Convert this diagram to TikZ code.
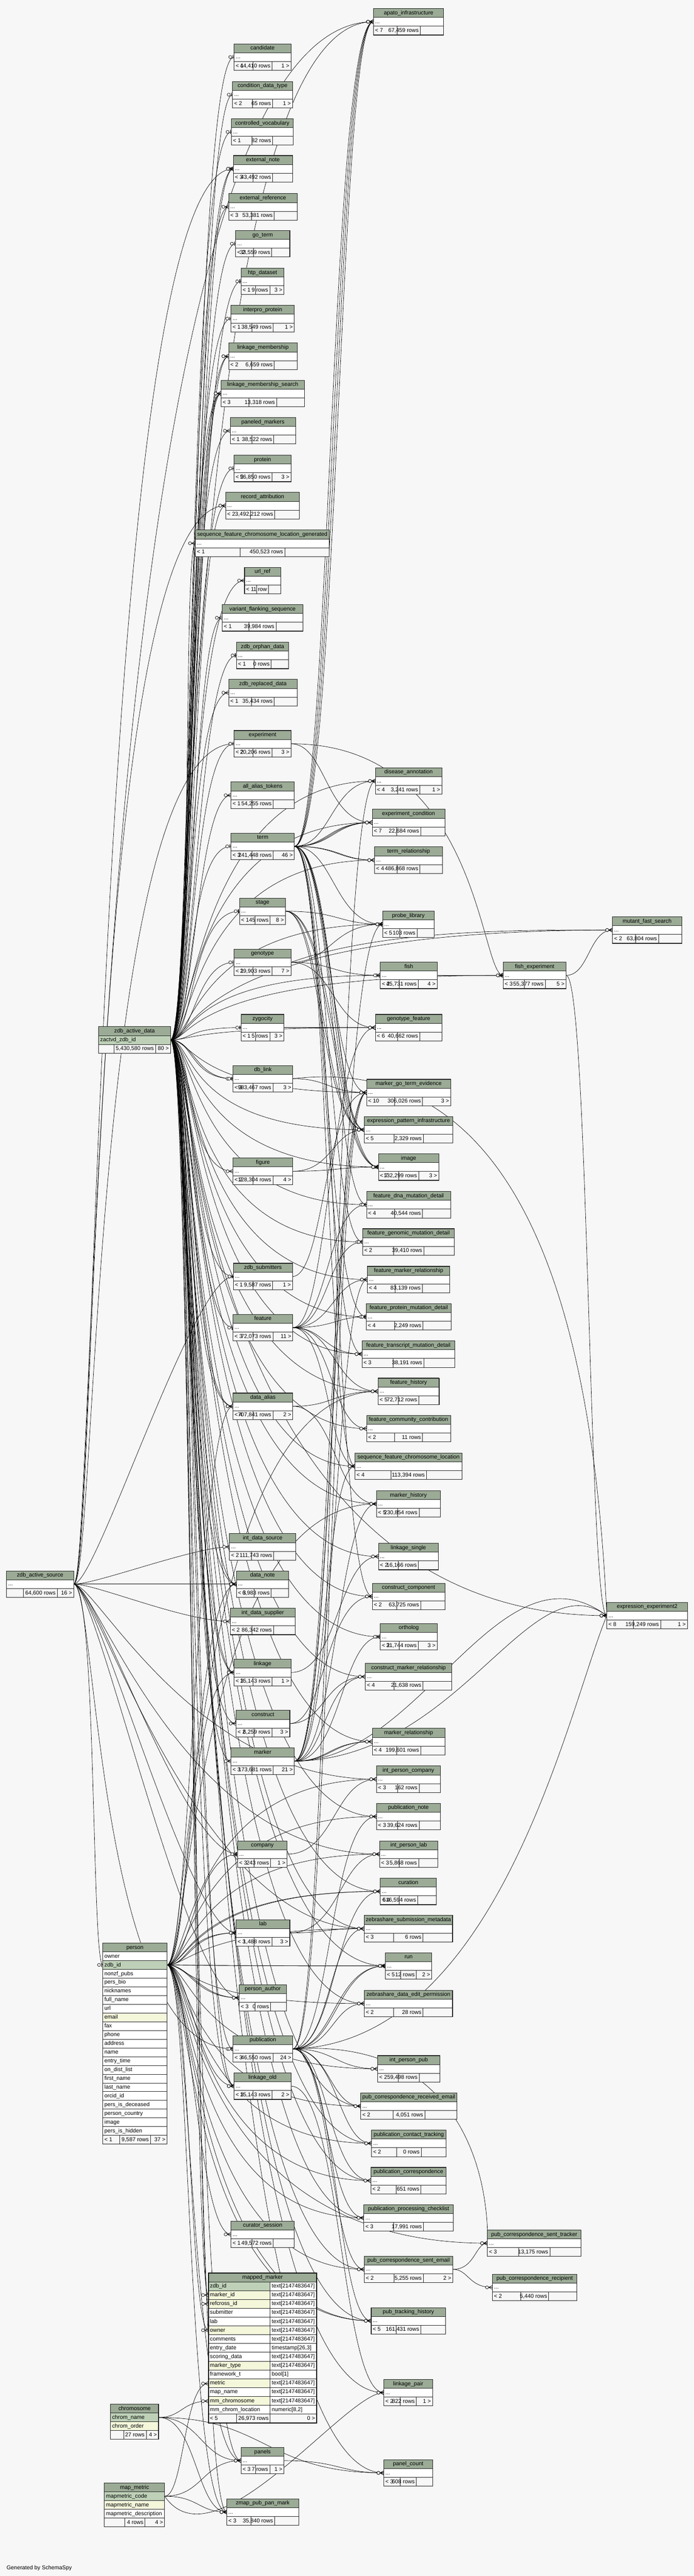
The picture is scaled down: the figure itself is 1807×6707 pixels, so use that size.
\documentclass[tikz,border=0pt]{standalone}
\usepackage{fontspec}
\setmainfont{Liberation Sans}
\usetikzlibrary{calc}
\definecolor{bgc}{HTML}{F7F7F7}
\definecolor{hdr}{HTML}{9BAB96}
\definecolor{pkc}{HTML}{BED1B8}
\definecolor{idx}{HTML}{F4F7DA}
\pgfdeclarelayer{bg}\pgfdeclarelayer{mk}\pgfsetlayers{bg,mk,main}
\newdimen\tw
\newcount\ec
\newcommand\tf{\fontsize{14.5}{17}\selectfont}
\tikzset{edge/.style={line width=0.9pt,black},
 cellb/.style={line width=0.9pt,black!85},
 txt/.style={inner sep=0pt,font=\tf,text height=10.5pt,text depth=3pt}}
\newcommand\hcell[6]{\path[fill=hdr] (#2,#4) rectangle (#3,#4+#5); \draw[cellb] (#2,#4) rectangle (#3,#4+#5); \node[txt] (#1) at ({(#2+#3)/2},#4+#5/2+0.5) {#6};}
\newcommand\crow[7]{\path[fill=#6] (#2,#4) rectangle (#3,#4+#5); \draw[cellb] (#2,#4) rectangle (#3,#4+#5); \node[txt,anchor=west] (#1) at (#2+4,#4+#5/2+0.5) {#7};}
\newcommand\fcell[7]{\path[fill=bgc] (#2,#4) rectangle (#3,#4+#5); \draw[cellb] (#2,#4) rectangle (#3,#4+#5); \if#7w\node[txt,anchor=west] (#1) at (#2+4,#4+#5/2+0.5) {#6};\else\node[txt,anchor=east] (#1) at (#3-4,#4+#5/2+0.5) {#6};\fi}
\newcommand\stbl[8]{%
\pgfmathsetmacro\tXa{#2}\pgfmathsetmacro\tXb{#3}\pgfmathsetmacro\tYa{#4}%
\settowidth{\tw}{\tf #7}%
\pgfmathsetmacro\tMw{max(\tw+12,(\tXb-\tXa)/3)}%
\pgfmathsetmacro\tSa{\tXa+(\tXb-\tXa-\tMw)/2}%
\pgfmathsetmacro\tSb{\tXb-(\tXb-\tXa-\tMw)/2}%
\node[inner sep=0pt,minimum width={\tXb-\tXa},minimum height=69,anchor=north west] (#1) at (\tXa,\tYa) {};
\hcell{#1-h}{\tXa}{\tXb}{\tYa}{23}{#5}
\crow{#1-d}{\tXa}{\tXb}{\tYa+23}{23}{white}{...}
\fcell{#1-a}{\tXa}{\tSa}{\tYa+46}{23}{#6}{w}
\fcell{#1-b}{\tSa}{\tSb}{\tYa+46}{23}{#7}{e}
\fcell{#1-c}{\tSb}{\tXb}{\tYa+46}{23}{#8}{e}
\draw[line width=1.2pt,black!85] (\tXa,\tYa) rectangle (\tXb,\tYa+69);
\coordinate (#1-l) at (\tXa,\tYa+34.5);
\coordinate (#1-r) at (\tXb,\tYa+34.5);}
\newcommand\mkm[1]{\draw[edge] ([xshift=-10pt]#1) -- ([yshift=5pt]#1) ([xshift=-10pt]#1) -- ([yshift=-5pt]#1) ([xshift=-10pt]#1) -- (#1); \draw[edge,fill=bgc] ([xshift=-14pt]#1) circle[radius=4pt];}
\newcommand\mko[1]{\draw[line width=2pt] ([shift={(-3pt,5pt)}]#1) -- ([shift={(-3pt,-5pt)}]#1); \draw[edge,fill=bgc] ([xshift=-10pt]#1) circle[radius=4pt];}
\newcommand\HE[4]{\global\advance\ec by 1
\pgfmathsetmacro\off{mod(\the\ec*13,41)-20}%
\begin{pgfonlayer}{bg}\draw[edge] (#1-r) .. controls ($(#1-r)+(60,0)$) and ($(#3 |- #2-l)+(\off,0)$) .. (#2-l);\end{pgfonlayer}
\begin{pgfonlayer}{mk}#4{#2-l}\end{pgfonlayer}}
\newcommand\ME[3]{\global\advance\ec by 1
\pgfmathsetmacro\off{mod(\the\ec*7,31)-15}%
\begin{pgfonlayer}{bg}\draw[edge] let \p1=(#1-r), \p2=(#2-l) in (\p1) .. controls ({(\x1+\x2)/2+\off*1pt},\y1) and ({(\x1+\x2)/2+\off*1pt},\y2) .. (\p2);\end{pgfonlayer}
\begin{pgfonlayer}{mk}#3{#2-l}\end{pgfonlayer}}
\newcommand\SE[5]{\begin{pgfonlayer}{bg}\draw[edge] (#1-r) .. controls #3 and #4 .. (#2-l);\end{pgfonlayer}
\begin{pgfonlayer}{mk}#5{#2-l}\end{pgfonlayer}}
\begin{document}
\begin{tikzpicture}[x=1pt,y=-1pt]
\useasboundingbox (0,0) rectangle (1807,6707);
\begin{pgfonlayer}{bg}\fill[bgc] (0,0) rectangle (1807,6707);\end{pgfonlayer}
\coordinate (bxZ) at (495,0);
\coordinate (bxS) at (238,0);
\coordinate (bxP) at (502,0);
% ---------- middle column
\stbl{cand}{610}{758}{114}{candidate}{< 1}{44,410 rows}{1 >}
\stbl{cdt}{606}{762}{212}{condition\_data\_type}{< 2}{65 rows}{1 >}
\stbl{cv}{603}{764}{309}{controlled\_vocabulary}{< 1}{82 rows}{}
\stbl{extnote}{608}{762}{405}{external\_note}{< 3}{43,492 rows}{}
\stbl{extref}{596}{774}{504}{external\_reference}{< 3}{53,381 rows}{}
\stbl{goterm}{614}{755}{600}{go\_term}{< 2}{33,559 rows}{}
\stbl{htp}{628}{740}{698}{htp\_dataset}{< 1}{9 rows}{3 >}
\stbl{interpro}{602}{767}{795}{interpro\_protein}{< 1}{38,549 rows}{1 >}
\stbl{lms}{596}{774}{893}{linkage\_membership}{< 2}{6,659 rows}{}
\stbl{lmss}{576}{793}{990}{linkage\_membership\_search}{< 3}{13,318 rows}{}
\stbl{panmk}{600}{770}{1087}{paneled\_markers}{< 1}{38,522 rows}{}
\stbl{protein}{610}{758}{1185}{protein}{< 2}{56,850 rows}{3 >}
\stbl{recatt}{588}{780}{1282}{record\_attribution}{< 2}{3,492,212 rows}{}
\stbl{sfclg}{509}{858}{1380}{sequence\_feature\_chromosome\_location\_generated}{< 1}{450,523 rows}{}
\stbl{urlref}{637}{731}{1477}{url\_ref}{< 1}{1 row}{}
\stbl{vfs}{579}{789}{1574}{variant\_flanking\_sequence}{< 1}{39,984 rows}{}
\stbl{orphan}{616}{752}{1672}{zdb\_orphan\_data}{< 1}{0 rows}{}
\stbl{replaced}{596}{774}{1769}{zdb\_replaced\_data}{< 1}{35,434 rows}{}
\stbl{exp}{610}{758}{1902}{experiment}{< 2}{20,206 rows}{3 >}
\stbl{aat}{602}{767}{2036}{all\_alias\_tokens}{< 1}{54,255 rows}{}
\stbl{term}{602}{767}{2169}{term}{< 3}{241,448 rows}{46 >}
\stbl{stage}{624}{744}{2338}{stage}{< 1}{45 rows}{8 >}
\stbl{geno}{610}{758}{2471}{genotype}{< 1}{29,903 rows}{7 >}
\stbl{zyg}{628}{740}{2641}{zygocity}{< 1}{5 rows}{3 >}
\stbl{dblink}{607}{763}{2774}{db\_link}{< 3}{983,467 rows}{3 >}
\stbl{figure}{607}{763}{3015}{figure}{< 2}{128,304 rows}{4 >}
\stbl{subm}{608}{762}{3289}{zdb\_submitters}{< 1}{9,587 rows}{1 >}
\stbl{feature}{607}{763}{3422}{feature}{< 3}{72,073 rows}{11 >}
\stbl{dalias}{607}{763}{3627}{data\_alias}{< 4}{707,841 rows}{2 >}
\stbl{ids}{598}{771}{3993}{int\_data\_source}{< 2}{111,743 rows}{}
\stbl{dnote}{616}{752}{4090}{data\_note}{< 3}{6,983 rows}{}
\stbl{idsup}{600}{769}{4187}{int\_data\_supplier}{< 2}{86,342 rows}{}
\stbl{linkage}{610}{758}{4320}{linkage}{< 3}{15,143 rows}{1 >}
\stbl{construct}{615}{755}{4453}{construct}{< 2}{6,259 rows}{3 >}
\stbl{marker}{602}{767}{4551}{marker}{< 3}{173,681 rows}{21 >}
\stbl{company}{619}{748}{4793}{company}{< 3}{243 rows}{1 >}
\stbl{lab}{615}{755}{4998}{lab}{< 3}{1,488 rows}{3 >}
\stbl{pauth}{623}{746}{5167}{person\_author}{< 3}{0 rows}{}
\stbl{pub}{607}{763}{5300}{publication}{< 3}{46,550 rows}{24 >}
\stbl{lold}{610}{758}{5397}{linkage\_old}{< 3}{15,143 rows}{2 >}
\stbl{cursess}{602}{767}{5783}{curator\_session}{< 1}{49,572 rows}{}
\stbl{panels}{628}{740}{6372}{panels}{< 3}{7 rows}{1 >}
\stbl{zppm}{591}{778}{6506}{zmap\_pub\_pan\_mark}{< 3}{35,840 rows}{}
% ---------- right column
\stbl{apato}{973}{1156}{22}{apato\_infrastructure}{< 7}{67,459 rows}{}
\stbl{disann}{978}{1151}{1999}{disease\_annotation}{< 4}{3,241 rows}{1 >}
\stbl{expcond}{970}{1159}{2107}{experiment\_condition}{< 7}{22,684 rows}{}
\stbl{termrel}{976}{1153}{2205}{term\_relationship}{< 4}{486,868 rows}{}
\stbl{probelib}{997}{1131}{2372}{probe\_library}{< 5}{103 rows}{}
\stbl{fish}{991}{1139}{2505}{fish}{< 2}{45,731 rows}{4 >}
\stbl{genofeat}{978}{1151}{2641}{genotype\_feature}{< 6}{40,662 rows}{}
\stbl{mgte}{955}{1174}{2810}{marker\_go\_term\_evidence}{< 10}{306,026 rows}{3 >}
\stbl{epi}{949}{1180}{2907}{expression\_pattern\_infrastructure}{< 5}{2,329 rows}{}
\stbl{image}{986}{1143}{3004}{image}{< 7}{132,299 rows}{3 >}
\stbl{fdna}{955}{1174}{3102}{feature\_dna\_mutation\_detail}{< 4}{40,544 rows}{}
\stbl{fgen}{945}{1184}{3199}{feature\_genomic\_mutation\_detail}{< 2}{39,410 rows}{}
\stbl{fmr}{957}{1172}{3297}{feature\_marker\_relationship}{< 4}{83,139 rows}{}
\stbl{fprot}{954}{1176}{3394}{feature\_protein\_mutation\_detail}{< 4}{2,249 rows}{}
\stbl{ftrans}{943}{1185}{3491}{feature\_transcript\_mutation\_detail}{< 3}{38,191 rows}{}
\stbl{fhist}{985}{1144}{3588}{feature\_history}{< 5}{72,712 rows}{}
\stbl{fcc}{955}{1174}{3685}{feature\_community\_contribution}{< 2}{11 rows}{}
\stbl{sfcl}{925}{1204}{3783}{sequence\_feature\_chromosome\_location}{< 4}{113,394 rows}{}
\stbl{mhist}{981}{1147}{3881}{marker\_history}{< 5}{230,854 rows}{}
\stbl{lsingle}{986}{1142}{4018}{linkage\_single}{< 2}{16,166 rows}{}
\stbl{ccomp}{970}{1159}{4122}{construct\_component}{< 2}{63,725 rows}{}
\stbl{ortho}{991}{1139}{4227}{ortholog}{< 2}{31,744 rows}{3 >}
\stbl{cmr}{952}{1177}{4331}{construct\_marker\_relationship}{< 4}{21,638 rows}{}
\stbl{mrel}{970}{1159}{4500}{marker\_relationship}{< 4}{199,601 rows}{}
\stbl{ipc}{981}{1147}{4598}{int\_person\_company}{< 3}{162 rows}{}
\stbl{pubnote}{981}{1147}{4695}{publication\_note}{< 3}{39,624 rows}{}
\stbl{ipl}{989}{1141}{4793}{int\_person\_lab}{< 3}{5,868 rows}{}
\stbl{curation}{991}{1137}{4890}{curation}{< 4}{516,594 rows}{}
\stbl{zsm}{949}{1179}{4987}{zebrashare\_submission\_metadata}{< 3}{6 rows}{}
\stbl{run}{1004}{1125}{5084}{run}{< 5}{12 rows}{2 >}
\stbl{zdep}{949}{1179}{5182}{zebrashare\_data\_edit\_permission}{< 2}{28 rows}{}
\stbl{ipp}{984}{1146}{5352}{int\_person\_pub}{< 2}{59,498 rows}{}
\stbl{pcre}{940}{1190}{5449}{pub\_correspondence\_received\_email}{< 2}{4,051 rows}{}
\stbl{pct}{968}{1162}{5546}{publication\_contact\_tracking}{< 2}{0 rows}{}
\stbl{pcorr}{966}{1162}{5643}{publication\_correspondence}{< 2}{651 rows}{}
\stbl{ppc}{948}{1181}{5740}{publication\_processing\_checklist}{< 3}{17,991 rows}{}
\stbl{pcse}{949}{1180}{5874}{pub\_correspondence\_sent\_email}{< 2}{5,255 rows}{2 >}
\stbl{pth}{967}{1161}{6008}{pub\_tracking\_history}{< 5}{161,431 rows}{}
\stbl{lpair}{1000}{1127}{6195}{linkage\_pair}{< 2}{822 rows}{1 >}
\stbl{pcount}{1000}{1127}{6404}{panel\_count}{< 3}{608 rows}{}
% ---------- far right
\stbl{fexp}{1311}{1475}{2505}{fish\_experiment}{< 3}{55,377 rows}{5 >}
\stbl{mfs}{1596}{1776}{2387}{mutant\_fast\_search}{< 2}{63,804 rows}{}
\stbl{ee2}{1581}{1791}{4172}{expression\_experiment2}{< 8}{159,249 rows}{1 >}
\stbl{pcst}{1270}{1514}{5806}{pub\_correspondence\_sent\_tracker}{< 3}{13,175 rows}{}
\stbl{pcr}{1283}{1503}{5921}{pub\_correspondence\_recipient}{< 2}{5,440 rows}{}
% ---------- zdb_active_data
\node[inner sep=0pt,minimum width=187,minimum height=69,anchor=north west] (zad) at (257,2673) {};
\hcell{zad-h}{257}{444}{2673}{23}{zdb\_active\_data}
\crow{zad-1}{257}{444}{2696}{23}{pkc}{zactvd\_zdb\_id}
\fcell{zad-a}{257}{297}{2719}{23}{}{w}
\fcell{zad-b}{297}{405}{2719}{23}{5,430,580 rows}{e}
\fcell{zad-c}{405}{444}{2719}{23}{80 >}{e}
\draw[line width=1.2pt,black!85] (257,2673) rectangle (444,2742);
\coordinate (zad-r) at (444,2707.5);
% ---------- zdb_active_source
\node[inner sep=0pt,minimum width=175,minimum height=69,anchor=north west] (zas) at (17,4090) {};
\hcell{zas-h}{17}{192}{4090}{23}{zdb\_active\_source}
\crow{zas-1}{17}{192}{4113}{23}{white}{...}
\fcell{zas-a}{17}{61}{4136}{23}{}{w}
\fcell{zas-b}{61}{149}{4136}{23}{64,600 rows}{e}
\fcell{zas-c}{149}{192}{4136}{23}{16 >}{e}
\draw[line width=1.2pt,black!85] (17,4090) rectangle (192,4159);
\coordinate (zas-r) at (192,4124.5);
% ---------- person
\node[inner sep=0pt,minimum width=167,minimum height=523,anchor=north west] (person) at (268,5059) {};
\hcell{person-h}{268}{435}{5059}{22.75}{person}
\foreach [count=\i] \nm/\cl in {owner/white,zdb\_id/pkc,nonzf\_pubs/white,pers\_bio/white,nicknames/white,full\_name/white,url/white,email/idx,fax/white,phone/white,address/white,name/white,entry\_time/white,on\_dist\_list/white,first\_name/white,last\_name/white,orcid\_id/white,pers\_is\_deceased/white,person\_country/white,image/white,pers\_is\_hidden/white}{\crow{person-\i}{268}{435}{5059+22.75*\i}{22.75}{\cl}{\nm}}
\fcell{person-a}{268}{312}{5559.5}{22.75}{< 1}{w}
\fcell{person-b}{312}{392}{5559.5}{22.75}{9,587 rows}{e}
\fcell{person-c}{392}{435}{5559.5}{22.75}{37 >}{e}
\draw[line width=1.2pt,black!85] (268,5059) rectangle (435,5582.25);
\coordinate (person-l) at (268,5115.9);
\coordinate (person-r) at (435,5115.9);
% ---------- mapped_marker
\node[inner sep=0pt,minimum width=282,minimum height=390,anchor=north west] (mm) at (543,5918) {};
\hcell{mm-h}{543}{825}{5918}{22.94}{mapped\_marker}
\foreach [count=\i] \nm/\cl/\ty in {zdb\_id/pkc/text[2147483647],marker\_id/idx/text[2147483647],refcross\_id/idx/text[2147483647],submitter/white/text[2147483647],lab/white/text[2147483647],owner/idx/text[2147483647],comments/white/text[2147483647],entry\_date/white/{timestamp[26,3]},scoring\_data/white/text[2147483647],marker\_type/idx/text[2147483647],framework\_t/white/bool[1],metric/idx/text[2147483647],map\_name/white/text[2147483647],mm\_chromosome/idx/text[2147483647],mm\_chrom\_location/white/{numeric[8,2]}}{\crow{mm-n\i}{543}{704}{5918+22.94*\i}{22.94}{\cl}{\nm}\crow{mm-t\i}{704}{825}{5918+22.94*\i}{22.94}{white}{\ty}}
\fcell{mm-a}{543}{616}{6285}{22.94}{< 5}{w}
\fcell{mm-b}{616}{704}{6285}{22.94}{26,973 rows}{e}
\fcell{mm-c}{704}{825}{6285}{22.94}{0 >}{e}
\draw[line width=2.6pt,black] (543,5918) rectangle (825,6308);
\coordinate (mmmk-l) at (543,5975.4);
\coordinate (mmrc-l) at (543,5998.3);
\coordinate (mmow-l) at (543,6067.1);
\coordinate (mmme-l) at (543,6205.8);
\coordinate (mmch-l) at (543,6251.6);
% ---------- chromosome
\node[inner sep=0pt,minimum width=125,minimum height=91,anchor=north west] (chrom) at (288,6260) {};
\hcell{chrom-h}{288}{413}{6260}{22.75}{chromosome}
\crow{chrom-1}{288}{413}{6282.75}{22.75}{pkc}{chrom\_name}
\crow{chrom-2}{288}{413}{6305.5}{22.75}{idx}{chrom\_order}
\fcell{chrom-a}{288}{322}{6328.25}{22.75}{}{w}
\fcell{chrom-b}{322}{381}{6328.25}{22.75}{27 rows}{e}
\fcell{chrom-c}{381}{413}{6328.25}{22.75}{4 >}{e}
\draw[line width=1.2pt,black!85] (288,6260) rectangle (413,6351);
\coordinate (chrom-r) at (413,6294.1);
% ---------- map_metric
\node[inner sep=0pt,minimum width=157,minimum height=114,anchor=north west] (mmetric) at (272,6465) {};
\hcell{mmetric-h}{272}{429}{6465}{22.8}{map\_metric}
\crow{mmetric-1}{272}{429}{6487.8}{22.8}{pkc}{mapmetric\_code}
\crow{mmetric-2}{272}{429}{6510.6}{22.8}{idx}{mapmetric\_name}
\crow{mmetric-3}{272}{429}{6533.4}{22.8}{white}{mapmetric\_description}
\fcell{mmetric-a}{272}{325}{6556.2}{22.8}{}{w}
\fcell{mmetric-b}{325}{378}{6556.2}{22.8}{4 rows}{e}
\fcell{mmetric-c}{378}{429}{6556.2}{22.8}{4 >}{e}
\draw[line width=1.2pt,black!85] (272,6465) rectangle (429,6579);
\coordinate (mmetric-r) at (429,6499.2);
\node[txt,anchor=west] (gen) at (17,6687) {Generated by SchemaSpy};
% ================= edges: zdb_active_data
\HE{zad}{apato}{bxZ}\mkm
\HE{zad}{cand}{bxZ}\mko
\HE{zad}{cdt}{bxZ}\mko
\HE{zad}{cv}{bxZ}\mko
\HE{zad}{extnote}{bxZ}\mko
\HE{zad}{extnote}{bxZ}\mkm
\HE{zad}{extref}{bxZ}\mkm
\HE{zad}{goterm}{bxZ}\mko
\HE{zad}{htp}{bxZ}\mko
\HE{zad}{interpro}{bxZ}\mko
\HE{zad}{lms}{bxZ}\mkm
\HE{zad}{lms}{bxZ}\mkm
\HE{zad}{lmss}{bxZ}\mkm
\HE{zad}{lmss}{bxZ}\mkm
\HE{zad}{lmss}{bxZ}\mkm
\HE{zad}{panmk}{bxZ}\mkm
\HE{zad}{protein}{bxZ}\mko
\HE{zad}{recatt}{bxZ}\mkm
\HE{zad}{sfclg}{bxZ}\mkm
\HE{zad}{urlref}{bxZ}\mkm
\HE{zad}{vfs}{bxZ}\mkm
\HE{zad}{orphan}{bxZ}\mko
\HE{zad}{replaced}{bxZ}\mkm
\HE{zad}{exp}{bxZ}\mko
\HE{zad}{aat}{bxZ}\mkm
\HE{zad}{term}{bxZ}\mko
\HE{zad}{stage}{bxZ}\mko
\HE{zad}{geno}{bxZ}\mko
\HE{zad}{zyg}{bxZ}\mko
\HE{zad}{dblink}{bxZ}\mkm
\HE{zad}{dblink}{bxZ}\mko
\HE{zad}{figure}{bxZ}\mkm
\HE{zad}{subm}{bxZ}\mko
\HE{zad}{feature}{bxZ}\mko
\HE{zad}{dalias}{bxZ}\mkm
\HE{zad}{dalias}{bxZ}\mkm
\HE{zad}{dnote}{bxZ}\mkm
\HE{zad}{dnote}{bxZ}\mkm
\HE{zad}{linkage}{bxZ}\mkm
\HE{zad}{linkage}{bxZ}\mkm
\HE{zad}{construct}{bxZ}\mkm
\HE{zad}{marker}{bxZ}\mkm
\HE{zad}{pub}{bxZ}\mkm
\HE{zad}{lold}{bxZ}\mkm
\HE{zad}{lold}{bxZ}\mkm
\HE{zad}{mmmk}{bxZ}\mkm
\HE{zad}{mmrc}{bxZ}\mkm
\HE{zad}{panels}{bxZ}\mkm
\HE{zad}{zppm}{bxZ}\mkm
\HE{zad}{disann}{bxZ}\mkm
\HE{zad}{expcond}{bxZ}\mkm
\HE{zad}{termrel}{bxZ}\mkm
\HE{zad}{probelib}{bxZ}\mko
\HE{zad}{fish}{bxZ}\mko
\HE{zad}{genofeat}{bxZ}\mkm
\HE{zad}{mgte}{bxZ}\mkm
\HE{zad}{epi}{bxZ}\mkm
\HE{zad}{image}{bxZ}\mko
\HE{zad}{fdna}{bxZ}\mko
\HE{zad}{fgen}{bxZ}\mko
\HE{zad}{fmr}{bxZ}\mkm
\HE{zad}{fprot}{bxZ}\mko
\HE{zad}{ftrans}{bxZ}\mkm
\HE{zad}{fhist}{bxZ}\mkm
\HE{zad}{fcc}{bxZ}\mkm
\HE{zad}{sfcl}{bxZ}\mkm
\HE{zad}{mhist}{bxZ}\mkm
\HE{zad}{lsingle}{bxZ}\mkm
\HE{zad}{ccomp}{bxZ}\mkm
\HE{zad}{ortho}{bxZ}\mko
\HE{zad}{cmr}{bxZ}\mkm
\HE{zad}{mrel}{bxZ}\mkm
\HE{zad}{pubnote}{bxZ}\mkm
\HE{zad}{curation}{bxZ}\mkm
\HE{zad}{zsm}{bxZ}\mkm
\HE{zad}{run}{bxZ}\mko
\HE{zad}{zdep}{bxZ}\mkm
\HE{zad}{pcre}{bxZ}\mkm
\HE{zad}{pct}{bxZ}\mkm
\HE{zad}{pcorr}{bxZ}\mkm
\HE{zad}{ppc}{bxZ}\mkm
\HE{zad}{pcse}{bxZ}\mkm
\HE{zad}{pth}{bxZ}\mkm
\HE{zad}{lpair}{bxZ}\mkm
\HE{zad}{pcount}{bxZ}\mkm
\HE{zad}{fexp}{bxZ}\mko
\HE{zad}{mfs}{bxZ}\mkm
\HE{zad}{ee2}{bxZ}\mkm
% ================= edges: zdb_active_source
\HE{zas}{apato}{bxS}\mkm
\HE{zas}{exp}{bxS}\mko
\HE{zas}{extnote}{bxS}\mkm
\HE{zas}{recatt}{bxS}\mkm
\HE{zas}{person}{bxS}\mko
\HE{zas}{pub}{bxS}\mko
\HE{zas}{company}{bxZ}\mko
\HE{zas}{lab}{bxZ}\mko
\HE{zas}{ids}{bxZ}\mkm
\HE{zas}{idsup}{bxZ}\mkm
\HE{zas}{dnote}{bxZ}\mkm
\HE{zas}{ipc}{bxZ}\mkm
\HE{zas}{ipl}{bxZ}\mkm
\HE{zas}{pauth}{bxZ}\mkm
\HE{zas}{subm}{bxZ}\mko
\HE{zas}{zsm}{bxZ}\mkm
% ================= edges: person
\HE{person}{mmow}{bxP}\mkm
\HE{person}{pauth}{bxP}\mkm
\HE{person}{pauth}{bxP}\mkm
\HE{person}{ipc}{bxP}\mkm
\HE{person}{ipl}{bxP}\mkm
\HE{person}{ipp}{bxP}\mkm
\HE{person}{curation}{bxP}\mkm
\HE{person}{curation}{bxP}\mkm
\HE{person}{cursess}{bxP}\mkm
\HE{person}{pcre}{bxP}\mkm
\HE{person}{pct}{bxP}\mkm
\HE{person}{pcorr}{bxP}\mkm
\HE{person}{ppc}{bxP}\mkm
\HE{person}{pcse}{bxP}\mkm
\HE{person}{pth}{bxP}\mkm
\HE{person}{pth}{bxP}\mkm
\HE{person}{pcst}{bxP}\mkm
\HE{person}{company}{bxP}\mkm
\HE{person}{lab}{bxP}\mkm
\HE{person}{lab}{bxP}\mkm
\HE{person}{dnote}{bxP}\mkm
\HE{person}{zsm}{bxP}\mkm
\HE{person}{zdep}{bxP}\mkm
\HE{person}{run}{bxP}\mkm
\HE{person}{run}{bxP}\mkm
\HE{person}{fhist}{bxP}\mkm
\HE{person}{mhist}{bxP}\mkm
\HE{person}{lold}{bxP}\mkm
\HE{person}{linkage}{bxP}\mkm
\HE{person}{pubnote}{bxP}\mkm
\HE{person}{dalias}{bxP}\mkm
\HE{person}{zppm}{bxP}\mkm
\HE{person}{panels}{bxP}\mkm
% ================= edges: middle to right
\ME{term}{apato}\mkm
\ME{term}{apato}\mkm
\ME{term}{apato}\mkm
\ME{term}{apato}\mkm
\ME{term}{expcond}\mkm
\ME{term}{expcond}\mkm
\ME{term}{expcond}\mkm
\ME{term}{termrel}\mkm
\ME{term}{termrel}\mkm
\ME{term}{disann}\mkm
\ME{term}{mgte}\mkm
\ME{term}{epi}\mkm
\ME{term}{epi}\mkm
\ME{term}{probelib}\mkm
\ME{term}{image}\mkm
\ME{term}{ccomp}\mkm
\ME{term}{fdna}\mkm
\ME{term}{fprot}\mkm
\ME{term}{ftrans}\mkm
\ME{term}{fgen}\mkm
\ME{term}{sfcl}\mkm
\ME{stage}{probelib}\mkm
\ME{stage}{epi}\mkm
\ME{stage}{epi}\mkm
\ME{stage}{image}\mkm
\ME{stage}{image}\mkm
\ME{geno}{probelib}\mkm
\ME{geno}{fish}\mkm
\ME{geno}{genofeat}\mkm
\SE{geno}{mfs}{(1000,2420)}{(1350,2421)}\mkm
\ME{zyg}{genofeat}\mkm
\ME{zyg}{genofeat}\mkm
\ME{zyg}{genofeat}\mkm
\ME{dblink}{mgte}\mkm
\SE{dblink}{ee2}{(1350,2740)}{(1545,3400)}\mkm
\ME{figure}{image}\mkm
\ME{figure}{epi}\mkm
\ME{subm}{mgte}\mkm
\ME{feature}{fdna}\mko
\ME{feature}{fgen}\mko
\ME{feature}{fmr}\mkm
\ME{feature}{fprot}\mko
\ME{feature}{ftrans}\mkm
\ME{feature}{fhist}\mkm
\ME{feature}{fcc}\mkm
\ME{feature}{sfcl}\mkm
\ME{feature}{genofeat}\mkm
\ME{dalias}{fhist}\mkm
\ME{dalias}{mhist}\mkm
\ME{linkage}{lsingle}\mkm
\ME{construct}{ccomp}\mkm
\ME{construct}{cmr}\mkm
\ME{marker}{mgte}\mkm
\ME{marker}{mgte}\mkm
\ME{marker}{fmr}\mkm
\ME{marker}{mrel}\mkm
\ME{marker}{mrel}\mkm
\ME{marker}{mhist}\mkm
\ME{marker}{ortho}\mkm
\ME{marker}{cmr}\mkm
\SE{marker}{ee2}{(1100,4585)}{(1300,4000)}\mkm
\SE{marker}{ee2}{(1200,4580)}{(1380,4060)}\mkm
\ME{marker}{probelib}\mkm
\ME{marker}{sfcl}\mkm
\ME{company}{ipc}\mkm
\ME{lab}{ipl}\mkm
\ME{lab}{zsm}\mkm
\ME{pub}{curation}\mkm
\ME{pub}{zsm}\mkm
\ME{pub}{zdep}\mkm
\ME{pub}{run}\mkm
\ME{pub}{run}\mkm
\ME{pub}{ipp}\mkm
\ME{pub}{pcre}\mkm
\ME{pub}{pct}\mkm
\ME{pub}{pcorr}\mkm
\ME{pub}{ppc}\mkm
\ME{pub}{pcse}\mkm
\ME{pub}{pth}\mkm
\SE{pub}{pcst}{(1300,5300)}{(1270,5840)}\mkm
\ME{pub}{pubnote}\mkm
\SE{pub}{ee2}{(1300,5320)}{(1480,4450)}\mkm
\ME{pub}{disann}\mkm
\ME{pub}{mgte}\mkm
\ME{lold}{lpair}\mkm
\ME{exp}{expcond}\mkm
\ME{fish}{fexp}\mkm
\ME{fexp}{mfs}\mkm
\ME{fexp}{ee2}\mkm
\ME{pcse}{pcst}\mkm
\ME{pcse}{pcr}\mkm
\ME{chrom}{mmch}\mkm
\ME{chrom}{panels}\mkm
\ME{chrom}{zppm}\mkm
\ME{chrom}{pcount}\mkm
\ME{mmetric}{mmme}\mkm
\ME{mmetric}{panels}\mkm
\ME{mmetric}{zppm}\mkm
\ME{panels}{pcount}\mkm
\SE{exp}{fexp}{(1250,1936)}{(1250,2539)}\mkm
\SE{mmetric}{lpair}{(560,6690)}{(900,6229)}\mkm
\end{tikzpicture}
\end{document}
